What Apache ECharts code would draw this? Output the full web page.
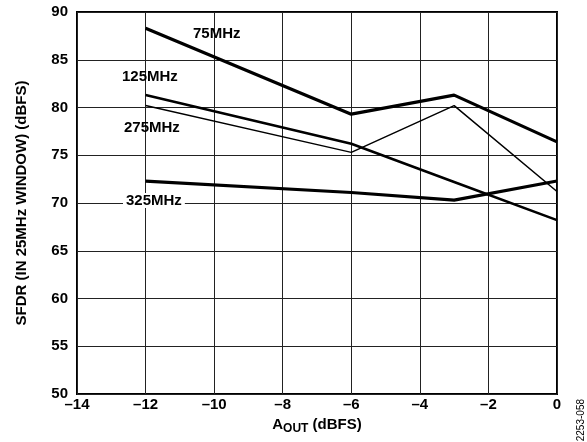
<!DOCTYPE html>
<html>
<head>
<meta charset="utf-8">
<script src="https://cdn.jsdelivr.net/npm/echarts@6/dist/echarts.min.js"></script>
<style>html,body{margin:0;padding:0;background:#fff}#c{width:587px;height:442px}</style>
</head>
<body>
<div id="c"></div>
<script>
var xValues = [-12, -6, -3, 0];
var s75 = [88.3, 79.3, 81.3, 76.4];
var s125 = [81.3, 76.2, 72.2, 68.2];
var s275 = [80.2, 75.3, 80.2, 71.2];
var s325 = [72.3, 71.1, 70.3, 72.3];
var seriesNames = ['75MHz', '125MHz', '275MHz', '325MHz'];
var yTicks = [50, 55, 60, 65, 70, 75, 80, 85, 90];
var xTicks = [-14, -12, -10, -8, -6, -4, -2, 0];

function pairs(arr) { return xValues.map(function (x, i) { return [x, arr[i]]; }); }
var font = '"Liberation Sans", Arial, sans-serif';
var chart = echarts.init(document.getElementById('c'));
function mk(name, data, w) {
  return { name: name, type: 'line', data: pairs(data), symbol: 'none', animation: false,
    lineStyle: { color: '#000', width: w }, z: 5 };
}
chart.setOption({
  animation: false,
  grid: { left: 77, right: 30, top: 12, bottom: 48, show: true, borderColor: '#000', borderWidth: 2, backgroundColor: 'transparent' },
  xAxis: {
    type: 'value', min: -14, max: 0, interval: 2,
    axisLine: { show: false }, axisTick: { show: false },
    splitLine: { lineStyle: { color: '#222', width: 1 } },
    axisLabel: { color: '#000', fontFamily: font, fontWeight: 'bold', fontSize: 15, margin: 3,
      formatter: function (v) { return v < 0 ? '\u2013' + Math.abs(v) : String(v); } },
    name: '{a|A}{s|OUT}{a| (dBFS)}', nameLocation: 'middle', nameGap: 18,
    nameTextStyle: { rich: {
      a: { fontFamily: font, fontWeight: 'bold', fontSize: 15, color: '#000' },
      s: { fontFamily: font, fontWeight: 'bold', fontSize: 12, color: '#000', verticalAlign: 'bottom', padding: [8, 0, 0, 0] }
    } }
  },
  yAxis: {
    type: 'value', min: 50, max: 90, interval: 5,
    axisLine: { show: false }, axisTick: { show: false },
    splitLine: { lineStyle: { color: '#222', width: 1 } },
    axisLabel: { color: '#000', fontFamily: font, fontWeight: 'bold', fontSize: 15, margin: 9 },
    name: 'SFDR (IN 25MHz WINDOW) (dBFS)', nameLocation: 'middle', nameGap: 48,
    nameTextStyle: { fontFamily: font, fontWeight: 'bold', fontSize: 15, color: '#000' }
  },
  series: [mk(seriesNames[0], s75, 3.2), mk(seriesNames[1], s125, 2.5), mk(seriesNames[2], s275, 1.5), mk(seriesNames[3], s325, 3.2)],
  graphic: [
    { type: 'text', left: 193, top: 26, z: 10, style: { text: seriesNames[0], font: 'bold 15px ' + font, fill: '#000' } },
    { type: 'text', left: 122, top: 69, z: 10, style: { text: seriesNames[1], font: 'bold 15px ' + font, fill: '#000' } },
    { type: 'text', left: 124, top: 120, z: 10, style: { text: seriesNames[2], font: 'bold 15px ' + font, fill: '#000' } },
    { type: 'text', left: 123, top: 193, z: 10, style: { text: seriesNames[3], font: 'bold 15px ' + font, fill: '#000', backgroundColor: '#fff', padding: [0, 3, 0, 3] } },
    { type: 'text', left: 576, top: 399, rotation: Math.PI / 2, z: 10, style: { text: '2253-058', font: '10px ' + font, fill: '#000' } }
  ]
});
</script>
</body>
</html>
